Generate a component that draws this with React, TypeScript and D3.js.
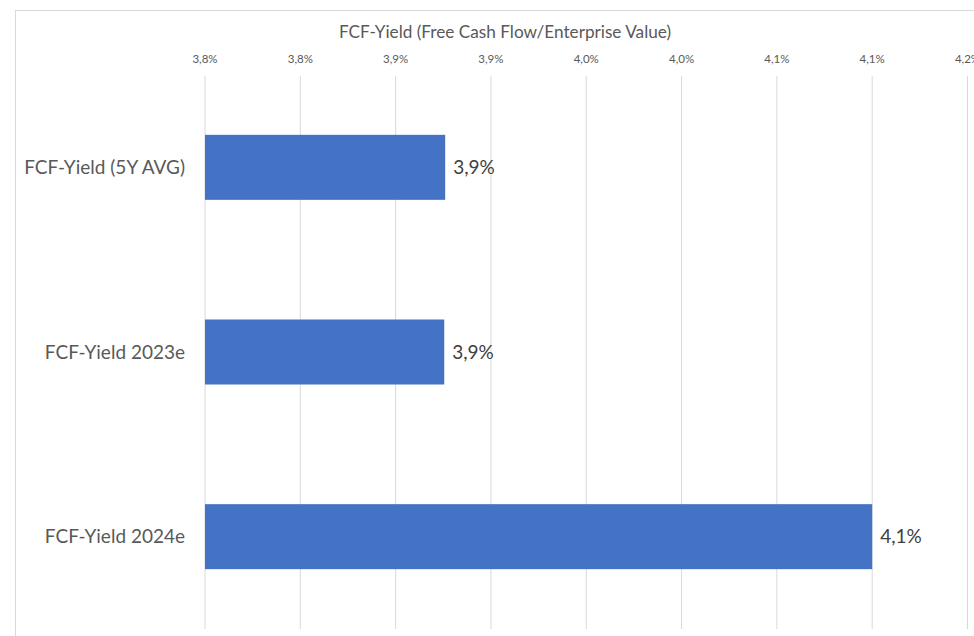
import React from "react";
import * as d3 from "d3";

const categories = ["FCF-Yield (5Y AVG)", "FCF-Yield 2023e", "FCF-Yield 2024e"];
const values = [3.876, 3.8755, 4.1];
const valueLabels = ["3,9%", "3,9%", "4,1%"];
const tickValues = [3.75, 3.8, 3.85, 3.9, 3.95, 4.0, 4.05, 4.1, 4.15];
const title = "FCF-Yield (Free Cash Flow/Enterprise Value)";

const fmt = (v: number) => (Math.round(v * 10 + 1e-6) / 10).toFixed(1).replace(".", ",") + "%";

export default function App() {
  const W = 974, H = 636;
  const x = d3.scaleLinear().domain([3.75, 4.15]).range([205, 967.5]);
  const y = d3.scaleBand().domain(categories).range([75, 629]).paddingInner(0.648).paddingOuter(0.324);
  const font = "Lato, 'Open Sans', sans-serif";
  return (
    <svg width={W} height={H} style={{ position: "absolute", left: 0, top: 0, background: "#fff" }}>
      <rect x={15.5} y={10.5} width={1000} height={700} fill="#fff" stroke="#d9d9d9" />
      <text x={505} y={38} textAnchor="middle" fontFamily={font} fontSize={17.2} fill="#595959">{title}</text>
      {tickValues.map((t, i) => (
        <g key={i}>
          <line x1={x(t)} x2={x(t)} y1={76} y2={629} stroke="#d9d9d9" strokeWidth={1} />
          <text x={x(t)} y={63} textAnchor="middle" fontFamily={font} fontSize={11.5} fill="#595959">{fmt(t)}</text>
        </g>
      ))}
      {categories.map((c, i) => {
        const yy = y(c)!;
        const bh = y.bandwidth();
        return (
          <g key={c}>
            <rect x={x(3.75)} y={yy} width={x(values[i]) - x(3.75)} height={bh} fill="#4472c4" />
            <text x={185} y={yy + bh / 2} dy="0.35em" textAnchor="end" fontFamily={font} fontSize={19} fill="#595959">{c}</text>
            <text x={x(values[i]) + 8} y={yy + bh / 2} dy="0.35em" textAnchor="start" fontFamily={font} fontSize={19} fill="#404040">{valueLabels[i]}</text>
          </g>
        );
      })}
    </svg>
  );
}
